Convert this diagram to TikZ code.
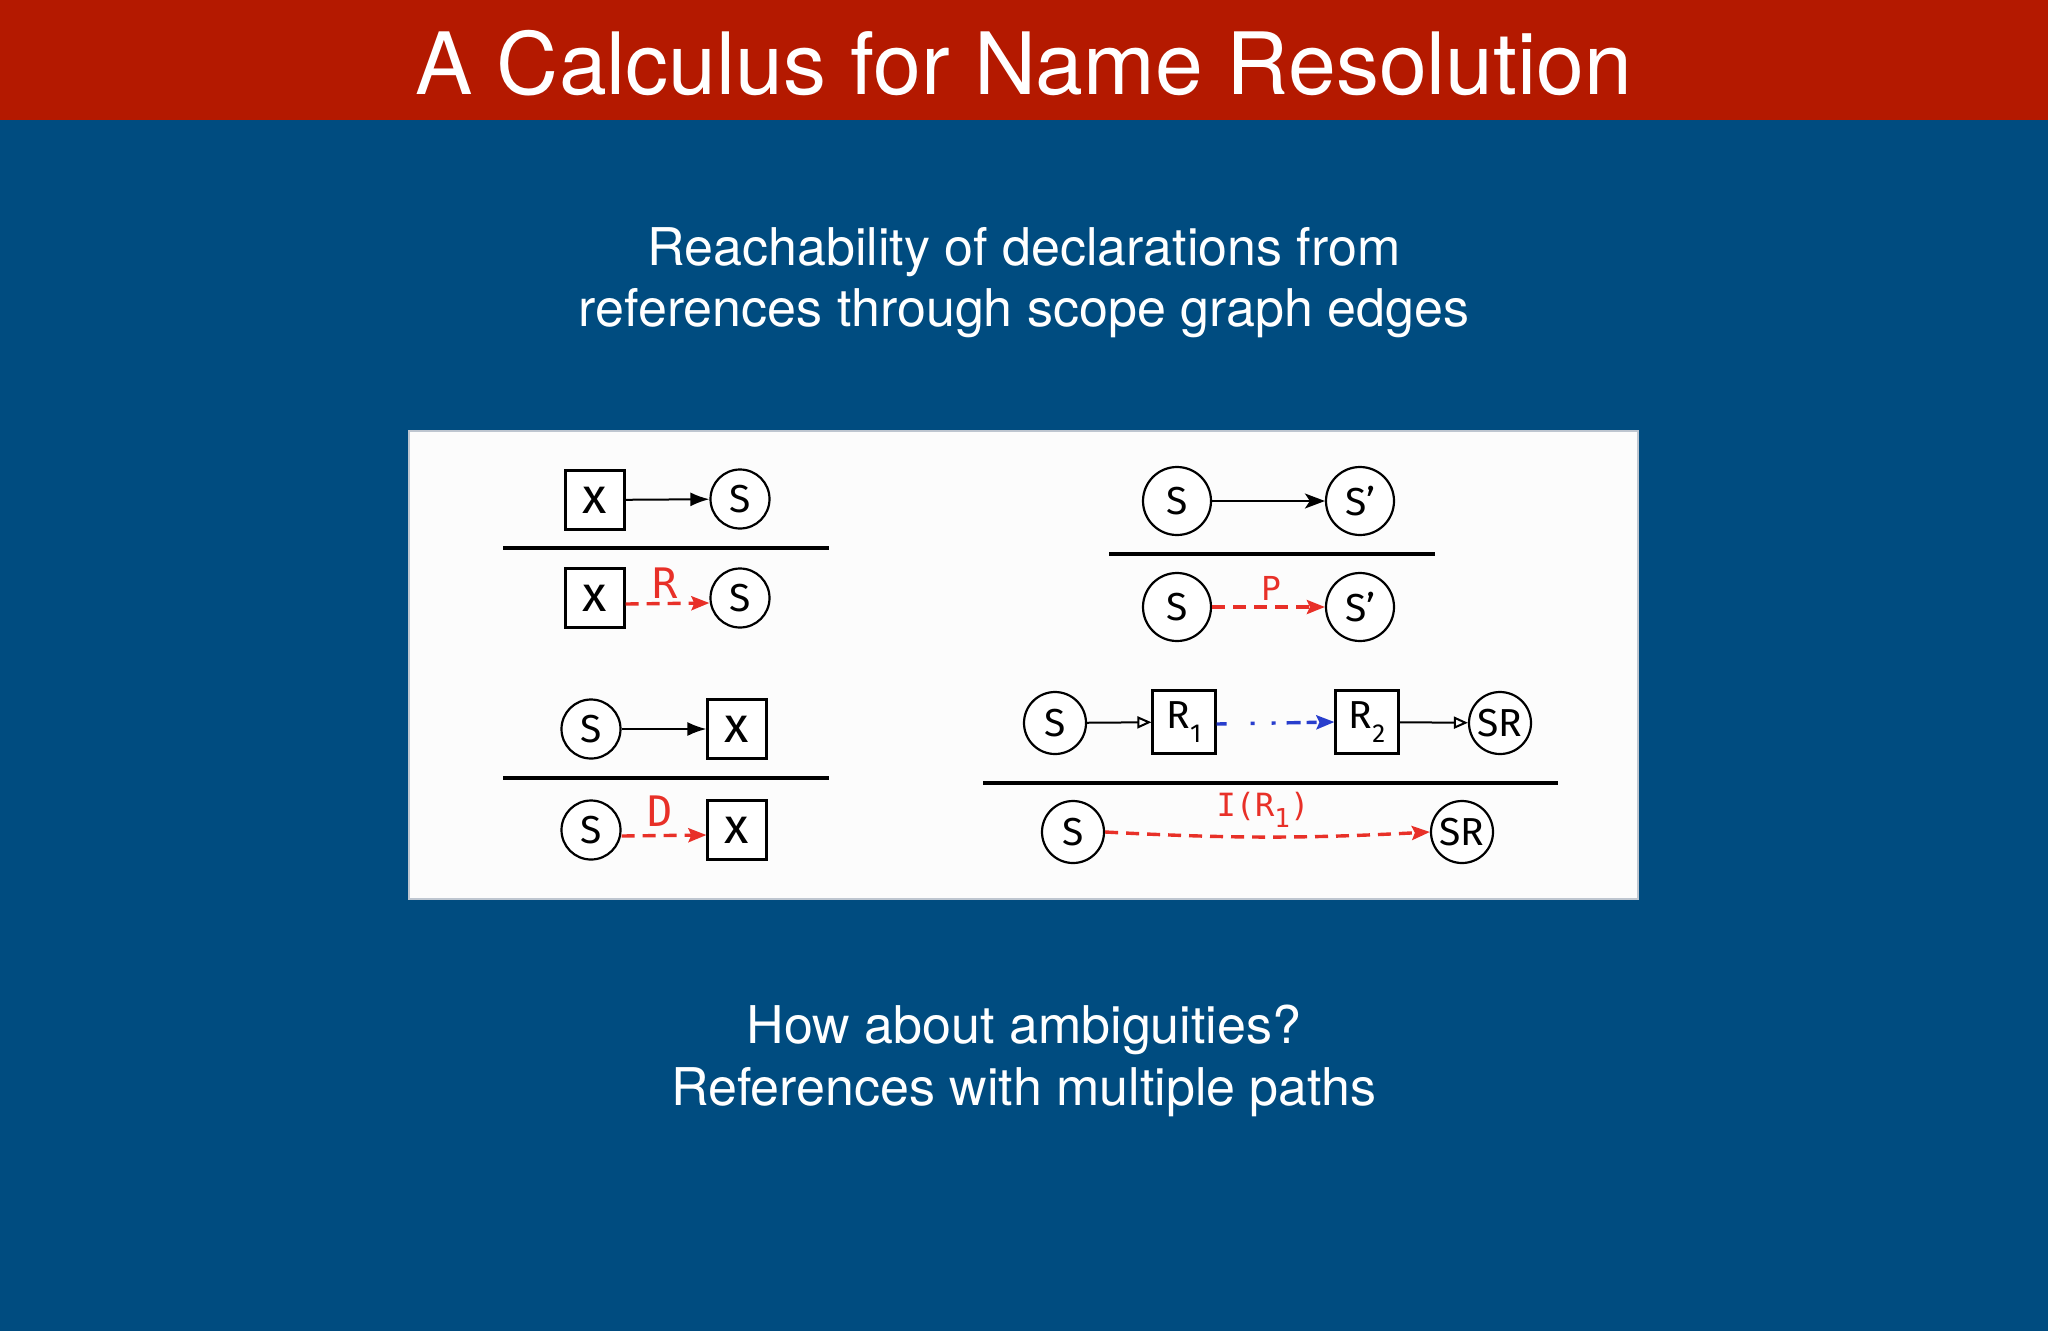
\documentclass[tikz,border=0pt]{standalone}
\usepackage{fontspec}
\setmainfont{TeX Gyre Heros}
\newfontfamily\graphfont{Fira Sans}
\newfontfamily\labelfont{DejaVu Sans Mono}
\usetikzlibrary{arrows.meta}

\newlength{\du}
\setlength{\du}{1\unitlength}

\definecolor{slideblue}{RGB}{0,76,128}
\definecolor{slidered}{RGB}{180,25,0}
\definecolor{panelfill}{RGB}{252,252,252}
\definecolor{panelline}{RGB}{190,198,208}
\definecolor{resred}{RGB}{232,48,40}
\definecolor{resblue}{RGB}{40,62,205}

\newcommand{\lowidx}[1]{\raisebox{-0.35em}{\fontsize{26}{26}\selectfont #1}}

% arrow tips are sized in pt (1pt = 1\du here)
\tikzset{
  decl/.style={draw=black, fill=white, line width=2.2\du, minimum size=59\du,
    inner sep=0pt, font=\graphfont\fontsize{39}{39}\selectfont},
  varbox/.style={decl, font=\graphfont\fontsize{50}{50}\selectfont},
  scopec/.style={circle, draw=black, fill=white, line width=2.2\du, minimum size=59\du,
    inner sep=0pt, font=\graphfont\fontsize{39}{39}\selectfont},
  slidetext/.style={text=white, anchor=base, font=\fontsize{52}{52}\selectfont},
  rulelabel/.style={text=resred, font=\labelfont\fontsize{42}{42}\selectfont},
  edge/.style={line width=2\du, -{Latex[length=19pt,width=14pt]}},
  openedge/.style={line width=2\du, -{Triangle[open,length=14pt,width=12pt]}},
  stealthedge/.style={line width=2\du, -{Stealth[length=20pt,width=15pt,inset=5pt]}},
  resedge/.style={resred, line width=3.4\du, dash pattern=on 13pt off 8pt,
    -{Stealth[length=18pt,width=14pt,inset=3pt]}},
  importedge/.style={resblue, line width=3.4\du,
    dash pattern=on 10pt off 24pt on 4pt off 17pt on 4pt off 11pt on 14pt off 6pt,
    -{Stealth[length=18pt,width=14pt,inset=3pt]}}
}

\begin{document}
\begin{tikzpicture}
\pgftransformxscale{1.000000}
\pgftransformyscale{-1.000000}
\useasboundingbox (0\du,0\du) rectangle (2048\du,1331\du);
% slide background and title bar
\fill[slideblue] (0\du,0\du) rectangle (2048\du,1331\du);
\fill[slidered] (0\du,0\du) rectangle (2048\du,120\du);
\node[text=white, anchor=base, font=\fontsize{86}{86}\selectfont] (title) at (1024\du,94\du){A Calculus for Name Resolution};
\node[slidetext] (intro1) at (1024\du,265\du){Reachability of declarations from};
\node[slidetext] (intro2) at (1024\du,326\du){references through scope graph edges};
% white panel with the rules
\draw[fill=panelfill, draw=panelline, line width=2\du] (409\du,431\du) rectangle (1638\du,899\du);
\pgfsetlinewidth{3.5\du}
\pgfsetbuttcap
\draw (503\du,548\du)--(829\du,548\du);
\draw (503\du,778\du)--(829\du,778\du);
\draw (1109\du,554\du)--(1435\du,554\du);
\draw (983\du,783\du)--(1558\du,783\du);
% rule R
\node[varbox] (xref) at (595\du,500\du){x};
\node[scopec] (sref) at (740\du,499\du){S};
\node[varbox] (xres) at (595\du,598\du){x};
\node[scopec] (sres) at (740\du,598\du){S};
\node[rulelabel] (lblR) at (665\du,583\du){R};
\draw[edge] (xref)--(sref);
\draw[resedge] ([yshift=6\du]xres.east)--([yshift=5\du]sres.west);
% rule D
\node[scopec] (sdecl) at (591\du,729\du){S};
\node[varbox] (xdecl) at (737\du,729\du){x};
\node[scopec] (sdres) at (591\du,830\du){S};
\node[varbox] (xdres) at (737\du,830\du){x};
\node[rulelabel] (lblD) at (660\du,811\du){D};
\draw[edge] (sdecl)--(xdecl);
\draw[resedge] ([yshift=6\du]sdres.east)--([yshift=5\du]xdres.west);
% rule P
\node[scopec, minimum size=68\du] (schild) at (1177\du,501\du){S};
\node[scopec, minimum size=68\du] (sparent) at (1360\du,501\du){S’};
\node[scopec, minimum size=68\du] (spchild) at (1177\du,607\du){S};
\node[scopec, minimum size=68\du] (spparent) at (1360\du,607\du){S’};
\node[rulelabel, font=\labelfont\fontsize{33}{33}\selectfont] (lblP) at (1271\du,588\du){P};
\draw[stealthedge] (schild)--(sparent);
\draw[resedge] (spchild.east)--(spparent.west);
% rule I
\node[scopec, minimum size=62\du] (simp) at (1055\du,723\du){S};
\node[decl, minimum size=63\du] (rone) at (1184\du,722\du){R\lowidx{1}};
\node[decl, minimum size=63\du] (rtwo) at (1367\du,722\du){R\lowidx{2}};
\node[scopec, minimum size=62\du] (smod) at (1500\du,723\du){SR};
\node[scopec, minimum size=62\du] (sires) at (1073\du,832\du){S};
\node[scopec, minimum size=62\du] (smres) at (1462\du,832\du){SR};
\node[rulelabel, font=\labelfont\fontsize{32}{32}\selectfont] (lblI) at (1263\du,810\du){I(R\lowidx{1})};
\draw[openedge] (simp)--(rone);
\draw[importedge] ([yshift=2\du]rone.east)--(rtwo.west);
\draw[openedge] (rtwo)--(smod);
\draw[resedge] (sires.east) to[bend left=3] (smres.west);
% question at the bottom
\node[slidetext] (ask1) at (1024\du,1043\du){How about ambiguities?};
\node[slidetext] (ask2) at (1024\du,1105\du){References with multiple paths};
\end{tikzpicture}
\end{document}
